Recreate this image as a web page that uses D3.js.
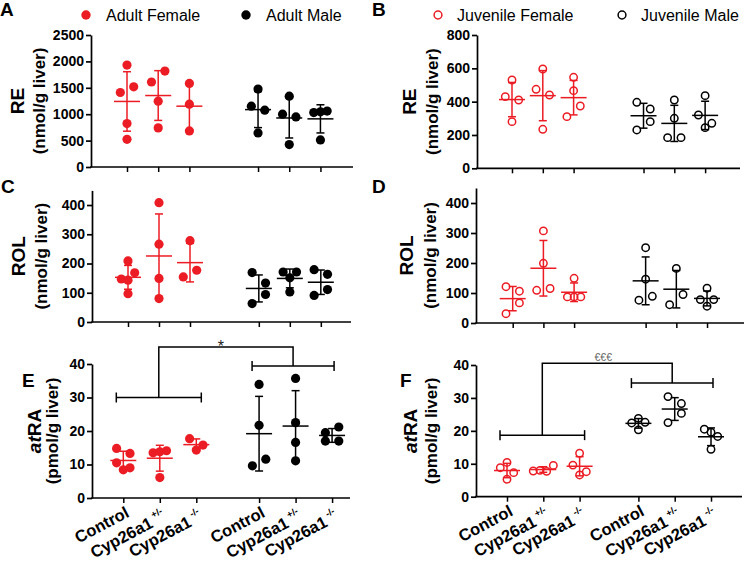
<!DOCTYPE html>
<html><head><meta charset="utf-8">
<script src="https://cdn.jsdelivr.net/npm/d3@7"></script>
<style>
body{margin:0;background:#fff}
svg{display:block}
text{font-family:Arial,"Liberation Sans",sans-serif}
</style>
</head><body>
<script>
// ---------------- DATA ----------------
const groupNames = ["Control","Cyp26a1 +/-","Cyp26a1 -/-"];
const xLabelMain = ["Control","Cyp26a1","Cyp26a1","Control","Cyp26a1","Cyp26a1"];
const xLabelSup  = ["","+/-","-/-","","+/-","-/-"];

// RE (nmol/g liver)
const adultFemaleRE = [[1930,1411,1519,823,525],[1610,1816,1247,741],[1582,1190,684]];
const adultMaleRE   = [[1475,1152,1076,646],[1342,1000,949,424],[1030,1045,1060,512]];
const juvFemaleRE   = [[530,430,410,280],[596,474,440,234],[546,466,310,374]];
const juvMaleRE     = [[396,356,230,280],[410,300,184,184],[436,320,270,244]];
// ROL (nmol/g liver)
const adultFemaleROL = [[209,147,143,168,97],[408,266,149,80],[278,154,177]];
const adultMaleROL   = [[169,133,63,94],[171,151,171,103],[179,163,91,111]];
const juvFemaleROL   = [[121,106,31,67],[307,199,109,115],[149,87,87,87]];
const juvMaleROL     = [[251,146,76,89],[182,61,95],[116,78,56,78]];
// atRA (pmol/g liver)
const adultFemaleRA = [[14.8,13.3,10.5,8.4,9.0],[13.5,13.8,14.1,6.1],[17.7,15.8,14.3]];
const adultMaleRA   = [[33.9,21.7,9.6,11.6],[35.7,22.5,16.6,11.1],[19.5,21.2,17.0,17.0]];
const juvFemaleRA   = [[8.8,10.4,7.3,5.3],[7.8,8.0,7.7,9.5],[13.2,9.6,6.6,7.6]];
const juvMaleRA     = [[22.4,20.3,23.8,22.6],[30.4,28.3,22.5,25.3],[20.5,19.6,18.3,14.4]];

const ticksA = [0,500,1000,1500,2000,2500];
const ticksB = [0,200,400,600,800];
const ticksROL = [0,100,200,300,400];
const ticksRA = [0,10,20,30,40];

const legendAdult = ["Adult Female","Adult Male"];
const legendJuv = ["Juvenile Female","Juvenile Male"];
const sigE = "*";
const sigF = "€€€";

// ---------------- STYLE ----------------
const RED = "#ec1c24", BLACK = "#000";
const W = 745, H = 563;
const svg = d3.select("body").append("svg").attr("width",W).attr("height",H);

function swarm(values, y){
  const items = values.map((v,i)=>({v,i,py:y(v)}));
  const sorted = items.slice().sort((a,b)=>a.py-b.py);
  const rows = [];
  sorted.forEach(it=>{
    const r = rows[rows.length-1];
    if(r && it.py - r.start <= 11){ r.m.push(it); } else rows.push({start:it.py, m:[it]});
  });
  rows.forEach(r=>{
    const m = r.m.sort((a,b)=>a.i-b.i), n=m.length;
    m.forEach((it,k)=>{ it.slot = n===1?0:(n===2?(k===0?-1:1):k-(n-1)/2); });
  });
  return items;
}

function drawPanel(p){
  const g = svg.append("g");
  const y = d3.scaleLinear().domain(p.yDomain).range(p.yRange);
  const xs = d3.scaleLinear().domain([0,1]).range([p.first, p.first+p.step]);
  const pos = i => xs(i + (i>=3 ? p.gap : 0));
  const y0 = y(0);

  // y axis
  const ya = g.append("g").attr("transform",`translate(${p.left},0)`)
    .call(d3.axisLeft(y).tickValues(p.ticks).tickFormat(d=>String(d)).tickSize(5).tickPadding(2).tickSizeOuter(0));
  ya.selectAll("path,line").attr("stroke",BLACK).attr("stroke-width",1.7);
  ya.selectAll("text").attr("font-size",14).attr("font-weight","bold").attr("fill",BLACK)
    .style("font-family","Arial,'Liberation Sans',sans-serif");

  // x axis
  g.append("line").attr("x1",p.left-0.85).attr("x2",p.right).attr("y1",y0).attr("y2",y0)
    .attr("stroke",BLACK).attr("stroke-width",1.7);
  const xa = g.append("g").attr("transform",`translate(0,${y0})`)
    .call(d3.axisBottom(d3.scaleLinear().domain([0,1]).range([0,1])).tickValues(d3.range(6).map(pos)).tickSize(5).tickFormat("").tickSizeOuter(0));
  xa.select(".domain").remove();
  xa.selectAll("line").attr("stroke",BLACK).attr("stroke-width",1.5);

  // series
  const series = [p.female, p.male];
  series.forEach((ser, s)=>{
    const col = s===0 ? RED : BLACK;
    ser.forEach((vals, gi)=>{
      const cx = pos(s*3+gi);
      const m = d3.mean(vals), sd = d3.deviation(vals);
      const eg = g.append("g").attr("stroke",col).attr("stroke-width",1.5);
      eg.append("line").attr("x1",cx).attr("x2",cx).attr("y1",y(m+sd)).attr("y2",y(m-sd));
      [m+sd, m-sd].forEach(v=>eg.append("line").attr("x1",cx-4).attr("x2",cx+4).attr("y1",y(v)).attr("y2",y(v)));
      eg.append("line").attr("x1",cx-13).attr("x2",cx+13).attr("y1",y(m)).attr("y2",y(m));
      const pts = swarm(vals, y);
      g.selectAll(null).data(pts).enter().append("circle")
        .attr("cx",d=>cx + d.slot*6.7).attr("cy",d=>d.py)
        .attr("r", p.open ? 3.7 : 4.6)
        .attr("fill", p.open ? "none" : col)
        .attr("stroke", p.open ? col : "none")
        .attr("stroke-width", 1.5);
    });
  });

  // panel letter
  g.append("text").attr("x",p.letterX).attr("y",p.letterY).text(p.letter)
    .attr("font-size",19).attr("font-weight","bold");

  // y title
  const cy = (p.yRange[0]+p.yRange[1])/2;
  const t1 = g.append("text").attr("transform",`translate(${p.titleX},${cy}) rotate(-90)`)
    .attr("text-anchor","middle").attr("dominant-baseline","central")
    .attr("font-size",19).attr("font-weight","bold");
  if(p.titleItalic){
    t1.append("tspan").attr("font-style","italic").text(p.titleItalic);
  }
  t1.append("tspan").text(p.title);
  g.append("text").attr("transform",`translate(${p.subX},${cy}) rotate(-90)`)
    .attr("text-anchor","middle").attr("dominant-baseline","central")
    .attr("font-size",17).attr("font-weight","bold").text(p.sub);

  // category labels
  if(p.labels){
    d3.range(6).forEach(i=>{
      const sup = xLabelSup[i];
      const t = g.append("text")
        .attr("transform",`translate(${pos(i)+7},${y0+18+(sup?4:0)}) rotate(-28)`)
        .attr("text-anchor","end").attr("font-size",16.5).attr("font-weight","bold");
      t.append("tspan").text(xLabelMain[i]);
      if(sup){ t.append("tspan").attr("font-size",9.5).attr("dy",-8).attr("dx",3).text(sup); }
    });
  }

  // significance bracket
  if(p.sig){
    const s = p.sig;
    const bg = g.append("g").attr("stroke",BLACK).attr("stroke-width",1.5).attr("fill","none");
    const fx1 = pos(0)-7, fx2 = pos(2)+5, mx1 = pos(3)-7, mx2 = pos(5)+2;
    const fy = y(s.low), my = y(s.high), ty = y(s.top);
    bg.append("line").attr("x1",fx1).attr("x2",fx2).attr("y1",fy).attr("y2",fy);
    [fx1,fx2].forEach(x=>bg.append("line").attr("x1",x).attr("x2",x).attr("y1",fy-5).attr("y2",fy+5));
    bg.append("line").attr("x1",mx1).attr("x2",mx2).attr("y1",my).attr("y2",my);
    [mx1,mx2].forEach(x=>bg.append("line").attr("x1",x).attr("x2",x).attr("y1",my-5).attr("y2",my+5));
    const fc = (fx1+fx2)/2, mc = (mx1+mx2)/2;
    bg.append("path").attr("d",`M${fc},${fy}V${ty}H${mc}V${my}`);
    g.append("text").attr("x",(fc+mc)/2+s.dx).attr("y",ty+s.dy).attr("text-anchor","middle")
      .attr("font-size",s.size).attr("fill",s.color).text(s.text);
  }
}

// ---------------- PANELS ----------------
const panels = [
  {letter:"A",letterX:0,letterY:16,left:91,right:353,first:127,step:31.2,gap:1.2,
   yDomain:[0,2500],yRange:[167,35],ticks:ticksA,female:adultFemaleRE,male:adultMaleRE,open:false,
   title:"RE",sub:"(nmol/g liver)",titleX:17,subX:39},
  {letter:"B",letterX:372,letterY:16,left:477,right:740,first:512,step:30.8,gap:1.27,
   yDomain:[0,800],yRange:[168.3,35],ticks:ticksB,female:juvFemaleRE,male:juvMaleRE,open:true,
   title:"RE",sub:"(nmol/g liver)",titleX:409,subX:432},
  {letter:"C",letterX:1,letterY:193,left:92,right:351,first:128,step:31,gap:1.22,
   yDomain:[0,450],yRange:[322,190.4],ticks:ticksROL,female:adultFemaleROL,male:adultMaleROL,open:false,
   title:"ROL",sub:"(nmol/g liver)",titleX:18,subX:41},
  {letter:"D",letterX:372,letterY:193,left:476,right:744,first:512.7,step:30.7,gap:1.33,
   yDomain:[0,450],yRange:[323,188],ticks:ticksROL,female:juvFemaleROL,male:juvMaleROL,open:true,
   title:"ROL",sub:"(nmol/g liver)",titleX:406,subX:430},
  {letter:"E",letterX:22,letterY:387,left:92,right:350,first:123.3,step:36.5,gap:0.72,
   yDomain:[0,40],yRange:[498,364],ticks:ticksRA,female:adultFemaleRA,male:adultMaleRA,open:false,
   titleItalic:"at",title:"RA",sub:"(pmol/g liver)",titleX:34,subX:52,labels:true,
   sig:{low:30,high:39.4,top:45.1,text:sigE,size:16,color:"#222",dx:-5,dy:5}},
  {letter:"F",letterX:400,letterY:387,left:476,right:742,first:507,step:36.3,gap:0.62,
   yDomain:[0,40],yRange:[496.7,365],ticks:ticksRA,female:juvFemaleRA,male:juvMaleRA,open:true,
   titleItalic:"at",title:"RA",sub:"(pmol/g liver)",titleX:410,subX:431,labels:true,
   sig:{low:18.7,high:34.5,top:40.5,text:sigF,size:10.5,color:"#666",dx:-4,dy:-2}}
];
panels.forEach(drawPanel);

// ---------------- LEGENDS ----------------
function legendItem(cx, tx, label, col, open){
  svg.append("circle").attr("cx",cx).attr("cy",15).attr("r",open?3.9:4.7)
    .attr("fill",open?"none":col).attr("stroke",open?col:"none").attr("stroke-width",1.5);
  svg.append("text").attr("x",tx).attr("y",21).attr("font-size",16).text(label);
}
legendItem(86,106,legendAdult[0],RED,false);
legendItem(246,266,legendAdult[1],BLACK,false);
legendItem(438,457,legendJuv[0],RED,true);
legendItem(622,641,legendJuv[1],BLACK,true);
</script>
</body></html>
